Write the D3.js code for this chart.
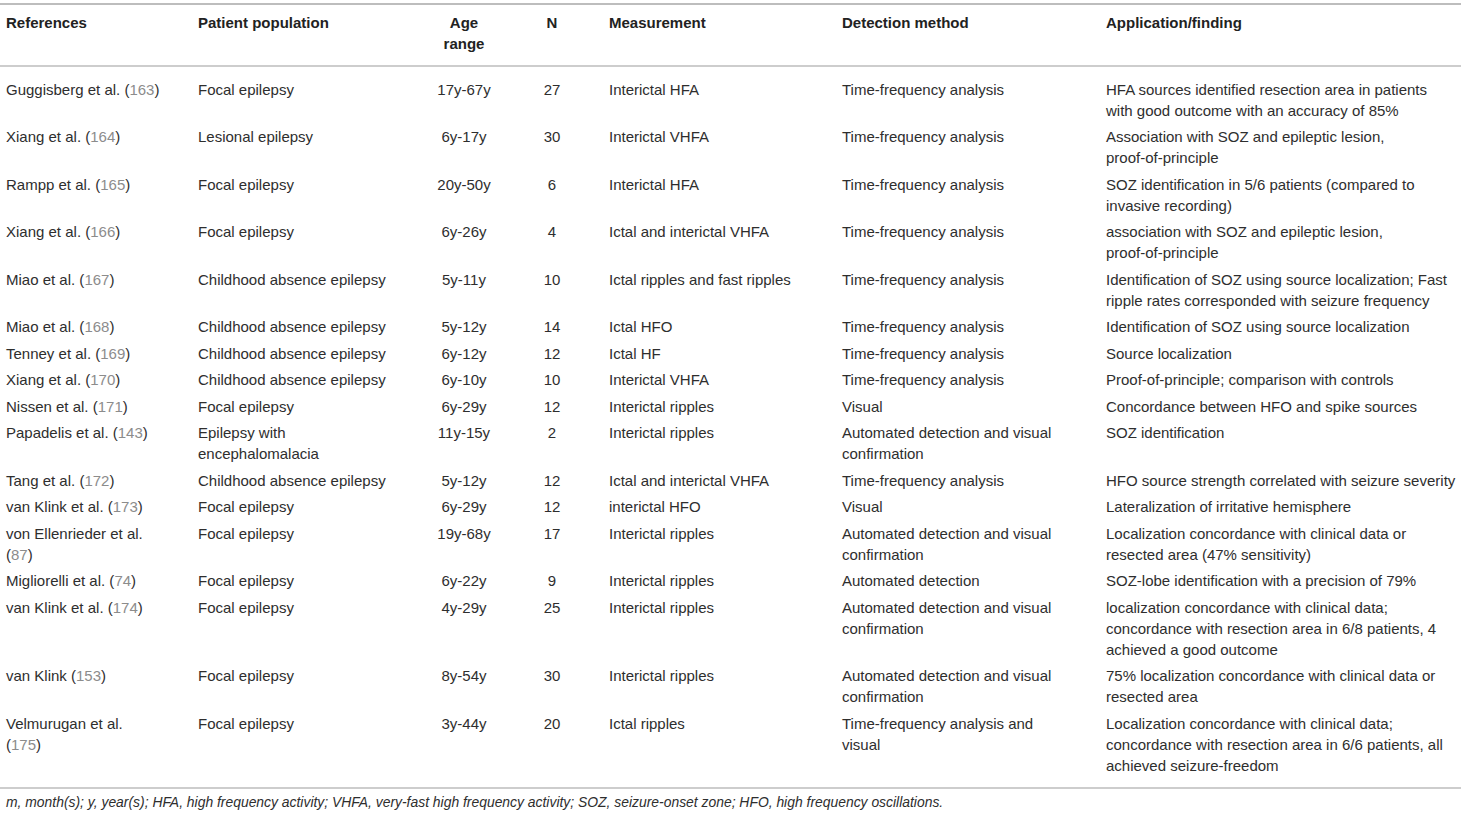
<!DOCTYPE html>
<html>
<head>
<meta charset="utf-8">
<script src="https://cdn.jsdelivr.net/npm/d3@7"></script>
<style>
  body { margin: 0; background: #fff; }
  svg text { font-family: "Liberation Sans", Arial, sans-serif; }
</style>
</head>
<body>
<svg id="tbl"></svg>
<script>
const headers = ["References", "Patient population", "Age\nrange", "N", "Measurement", "Detection method", "Application/finding"];

const refNames = ["Guggisberg et al. (", "Xiang et al. (", "Rampp et al. (", "Xiang et al. (", "Miao et al. (",
  "Miao et al. (", "Tenney et al. (", "Xiang et al. (", "Nissen et al. (", "Papadelis et al. (",
  "Tang et al. (", "van Klink et al. (", "von Ellenrieder et al.\n(", "Migliorelli et al. (", "van Klink et al. (",
  "van Klink (", "Velmurugan et al.\n("];
const refNums = ["163", "164", "165", "166", "167", "168", "169", "170", "171", "143",
  "172", "173", "87", "74", "174", "153", "175"];
const population = ["Focal epilepsy", "Lesional epilepsy", "Focal epilepsy", "Focal epilepsy", "Childhood absence epilepsy",
  "Childhood absence epilepsy", "Childhood absence epilepsy", "Childhood absence epilepsy", "Focal epilepsy", "Epilepsy with\nencephalomalacia",
  "Childhood absence epilepsy", "Focal epilepsy", "Focal epilepsy", "Focal epilepsy", "Focal epilepsy",
  "Focal epilepsy", "Focal epilepsy"];
const ageRange = ["17y-67y", "6y-17y", "20y-50y", "6y-26y", "5y-11y", "5y-12y", "6y-12y", "6y-10y", "6y-29y", "11y-15y",
  "5y-12y", "6y-29y", "19y-68y", "6y-22y", "4y-29y", "8y-54y", "3y-44y"];
const nValues = [27, 30, 6, 4, 10, 14, 12, 10, 12, 2, 12, 12, 17, 9, 25, 30, 20];
const measurement = ["Interictal HFA", "Interictal VHFA", "Interictal HFA", "Ictal and interictal VHFA", "Ictal ripples and fast ripples",
  "Ictal HFO", "Ictal HF", "Interictal VHFA", "Interictal ripples", "Interictal ripples",
  "Ictal and interictal VHFA", "interictal HFO", "Interictal ripples", "Interictal ripples", "Interictal ripples",
  "Interictal ripples", "Ictal ripples"];
const detection = ["Time-frequency analysis", "Time-frequency analysis", "Time-frequency analysis", "Time-frequency analysis", "Time-frequency analysis",
  "Time-frequency analysis", "Time-frequency analysis", "Time-frequency analysis", "Visual", "Automated detection and visual\nconfirmation",
  "Time-frequency analysis", "Visual", "Automated detection and visual\nconfirmation", "Automated detection", "Automated detection and visual\nconfirmation",
  "Automated detection and visual\nconfirmation", "Time-frequency analysis and\nvisual"];
const finding = [
  "HFA sources identified resection area in patients\nwith good outcome with an accuracy of 85%",
  "Association with SOZ and epileptic lesion,\nproof-of-principle",
  "SOZ identification in 5/6 patients (compared to\ninvasive recording)",
  "association with SOZ and epileptic lesion,\nproof-of-principle",
  "Identification of SOZ using source localization; Fast\nripple rates corresponded with seizure frequency",
  "Identification of SOZ using source localization",
  "Source localization",
  "Proof-of-principle; comparison with controls",
  "Concordance between HFO and spike sources",
  "SOZ identification",
  "HFO source strength correlated with seizure severity",
  "Lateralization of irritative hemisphere",
  "Localization concordance with clinical data or\nresected area (47% sensitivity)",
  "SOZ-lobe identification with a precision of 79%",
  "localization concordance with clinical data;\nconcordance with resection area in 6/8 patients, 4\nachieved a good outcome",
  "75% localization concordance with clinical data or\nresected area",
  "Localization concordance with clinical data;\nconcordance with resection area in 6/6 patients, all\nachieved seizure-freedom"
];
const footnote = "m, month(s); y, year(s); HFA, high frequency activity; VHFA, very-fast high frequency activity; SOZ, seizure-onset zone; HFO, high frequency oscillations.";

const W = 1461, H = 817;
const svg = d3.select("#tbl").attr("width", W).attr("height", H);

const fontSize = 15;
const lineH = 21;
const rowGap = 5.5 / lineH;  // gap between rows, in line units
const textColor = "#2e2e2e";
const ruleColor = "#bdbdbd";

// columns: left x for left-aligned, center x for middle-aligned
const colX = [6, 198, 464, 552, 609, 842, 1106];
const colAnchor = ["start", "start", "middle", "middle", "start", "start", "start"];

const rows = refNames.map((r, i) => ({
  cells: [r, population[i], ageRange[i], String(nValues[i]), measurement[i], detection[i], finding[i]],
  ref: refNums[i]
}));
rows.forEach(d => {
  d.lines = d3.max(d.cells, c => c.split("\n").length);
});

// cumulative start of each row in line units
let acc = 0;
rows.forEach(d => { d.start = acc; acc += d.lines + rowGap; });

const y = d3.scaleLinear().domain([0, 1]).range([89, 89 + lineH]);

// rules
const rules = [4, 66, 788];
svg.selectAll("line.rule").data(rules).join("line")
  .attr("class", "rule")
  .attr("x1", 0).attr("x2", W)
  .attr("y1", d => d).attr("y2", d => d)
  .attr("stroke", ruleColor)
  .attr("stroke-width", (d, i) => i === 0 ? 2 : 1.5);

// header
const head = svg.append("g");
headers.forEach((h, j) => {
  const t = head.append("text")
    .attr("x", colX[j])
    .attr("text-anchor", colAnchor[j])
    .attr("font-size", fontSize)
    .attr("font-weight", "bold")
    .attr("fill", "#222");
  h.split("\n").forEach((ln, k) => {
    t.append("tspan").attr("x", colX[j]).attr("y", 28 + k * 21).text(ln);
  });
});

// body
const rowG = svg.selectAll("g.row").data(rows).join("g").attr("class", "row");

rowG.each(function (d) {
  const g = d3.select(this);
  d.cells.forEach((c, j) => {
    const t = g.append("text")
      .attr("text-anchor", colAnchor[j])
      .attr("font-size", fontSize)
      .attr("fill", textColor);
    const parts = c.split("\n");
    parts.forEach((ln, k) => {
      const ts = t.append("tspan").attr("x", colX[j]).attr("y", y(d.start + k) + 5.5);
      ts.text(ln);
      if (j === 0 && k === parts.length - 1) {
        t.append("tspan").attr("fill", "#8c8c8c").text(d.ref);
        t.append("tspan").text(")");
      }
    });
  });
});

// footnote
svg.append("text")
  .attr("x", 6).attr("y", 807)
  .attr("font-size", 13.9)
  .attr("font-style", "italic")
  .attr("fill", textColor)
  .text(footnote);
</script>
</body>
</html>
